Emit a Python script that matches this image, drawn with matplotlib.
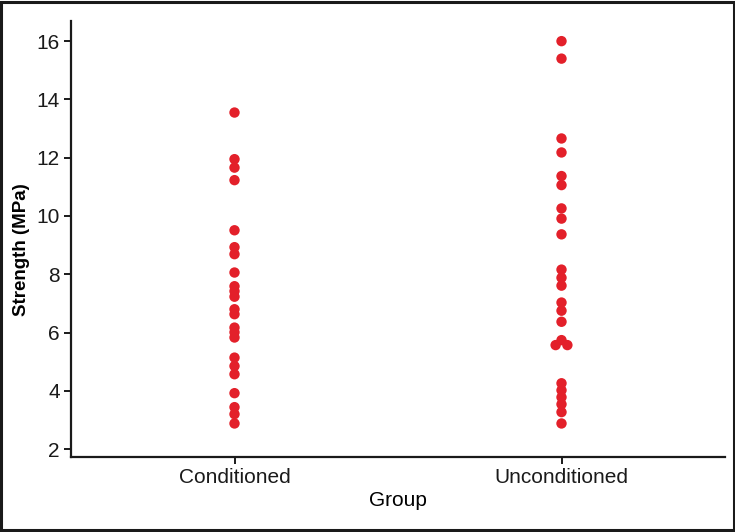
import numpy as np
import matplotlib.pyplot as plt
from matplotlib.patches import Rectangle

plt.rcParams['font.family'] = ['Liberation Sans', 'DejaVu Sans']

groups = ['Conditioned', 'Unconditioned']

conditioned = [13.55, 11.95, 11.66, 11.23, 9.51, 8.93, 8.69, 8.06, 7.59, 7.42,
               7.23, 6.80, 6.63, 6.17, 6.01, 5.83, 5.14, 4.85, 4.57, 3.92,
               3.44, 3.20, 2.88]
unconditioned = [16.0, 15.4, 12.66, 12.18, 11.37, 11.06, 10.26, 9.91, 9.37, 8.16,
                 7.88, 7.61, 7.03, 6.75, 6.37, 5.74, 5.57, 5.57, 4.26, 4.02,
                 3.78, 3.54, 3.27, 2.88]

y_ticks = [2, 4, 6, 8, 10, 12, 14, 16]


def dodge(values, pos, step=0.036):
    # spread identical values sideways so they don't sit on top of each other
    values = np.asarray(values)
    xs = np.full(len(values), float(pos))
    for v in np.unique(values):
        idx = np.where(values == v)[0]
        if len(idx) > 1:
            xs[idx] = pos + (np.arange(len(idx)) - (len(idx) - 1) / 2) * step
    return xs


fig = plt.figure(figsize=(7.35, 5.32), dpi=100)
ax = fig.add_axes([0.0966, 0.141, 0.8898, 0.820])

red = '#e3202a'
for i, vals in enumerate([conditioned, unconditioned]):
    ax.scatter(dodge(vals, i), vals, s=56, color=red, edgecolors='none', zorder=3)

ax.set_xlim(-0.5, 1.5)
ax.set_ylim(1.73, 16.7)
ax.set_xticks(range(len(groups)))
ax.set_xticklabels(groups)
ax.set_yticks(y_ticks)

ax.spines['top'].set_visible(False)
ax.spines['right'].set_visible(False)
for side in ['left', 'bottom']:
    ax.spines[side].set_linewidth(1.6)
    ax.spines[side].set_color('#1a1a1a')

ax.tick_params(axis='both', direction='out', length=5, width=1.4,
               color='#1a1a1a', labelsize=15, labelcolor='#1a1a1a', pad=3)

ax.set_ylabel('Strength (MPa)', fontsize=13.5, fontweight='bold')
ax.yaxis.set_label_coords(-0.063, 0.476)
ax.set_xlabel('Group', fontsize=15, labelpad=3)

# black border around the whole picture
fig.patches.append(Rectangle((0.002, 0.003), 0.996, 0.994, transform=fig.transFigure,
                             fill=False, edgecolor='#1a1a1a', linewidth=2.2))

fig.savefig('out.png', dpi=100)
